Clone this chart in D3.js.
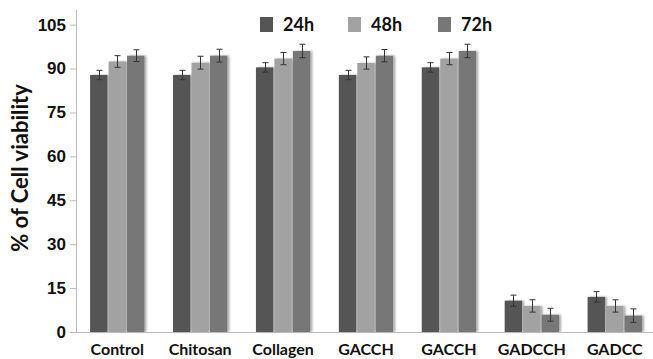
<!DOCTYPE html>
<html>
<head>
<meta charset="utf-8">
<script src="https://cdn.jsdelivr.net/npm/d3@7"></script>
<style>
    body { margin: 0; background: #fff; }
    svg { display: block; font-family: Lato, "Open Sans", sans-serif; }
</style>
</head>
<body>
<svg id="chart" width="653" height="359"></svg>
<script>
var categories = ['Control', 'Chitosan', 'Collagen', 'GACCH', 'GACCH', 'GADCCH', 'GADCC'];
var series = ['24h', '48h', '72h'];
var values24 = [87.8, 87.8, 90.4, 87.8, 90.4, 10.7, 12.0];
var values48 = [92.4, 92.0, 93.4, 91.9, 93.4, 8.9, 8.9];
var values72 = [94.4, 94.4, 96.0, 94.4, 96.0, 5.9, 5.6];
var errors24 = [1.6, 1.6, 1.6, 1.6, 1.6, 1.9, 1.8];
var errors48 = [2.0, 2.2, 2.1, 2.1, 2.1, 2.1, 2.1];
var errors72 = [2.0, 2.2, 2.3, 2.1, 2.3, 2.2, 2.3];
var yTicks = [0, 15, 30, 45, 60, 75, 90, 105];
var colors = ['#555555', '#a2a2a2', '#777777'];

var valueSets = [values24, values48, values72];
var errorSets = [errors24, errors48, errors72];

var svg = d3.select('#chart');
var margin = { left: 76, top: 10, bottom: 27 };
var height = 359;

// index categories so the two GACCH groups stay distinct
var x = d3.scaleBand()
    .domain(d3.range(categories.length))
    .range([margin.left, 656])
    .paddingInner(0.345)
    .paddingOuter(0.17);
var x1 = d3.scaleBand()
    .domain(series)
    .range([0, x.bandwidth()])
    .paddingInner(0.06);
var y = d3.scaleLinear()
    .domain([0, 110])
    .range([height - margin.bottom, margin.top]);

var defs = svg.append('defs');
var blur = defs.append('filter').attr('id', 'shadow')
    .attr('x', '-20%').attr('y', '-5%').attr('width', '150%').attr('height', '110%');
blur.append('feGaussianBlur').attr('in', 'SourceAlpha').attr('stdDeviation', 1);
blur.append('feOffset').attr('dx', 1.5).attr('dy', 0).attr('result', 'b');
blur.append('feComponentTransfer').append('feFuncA').attr('type', 'linear').attr('slope', 0.35);
var merge = blur.append('feMerge');
merge.append('feMergeNode');
merge.append('feMergeNode').attr('in', 'SourceGraphic');

// bars
var rows = [];
categories.forEach(function (c, i) {
    series.forEach(function (s, j) {
        rows.push({ cat: i, s: s, j: j, v: valueSets[j][i], e: errorSets[j][i] });
    });
});

svg.append('g').selectAll('rect')
    .data(rows)
    .enter()
        .append('rect')
        .attr('x', function (d) { return x(d.cat) + x1(d.s); })
        .attr('y', function (d) { return y(d.v); })
        .attr('width', x1.bandwidth())
        .attr('height', function (d) { return y(0) - y(d.v); })
        .attr('fill', function (d) { return colors[d.j]; })
        .attr('filter', 'url(#shadow)');

// error bars
var eb = svg.append('g').attr('stroke', '#333').attr('stroke-width', 1).attr('fill', 'none');
rows.forEach(function (d) {
    var cx = Math.round(x(d.cat) + x1(d.s) + x1.bandwidth() / 2) + 0.5;
    var y0 = y(d.v - d.e), y1 = y(d.v + d.e);
    eb.append('line').attr('x1', cx).attr('x2', cx).attr('y1', y0).attr('y2', y1);
    eb.append('line').attr('x1', cx - 3).attr('x2', cx + 3).attr('y1', y0).attr('y2', y0);
    eb.append('line').attr('x1', cx - 3).attr('x2', cx + 3).attr('y1', y1).attr('y2', y1);
});

// y axis
var yAxis = svg.append('g')
    .attr('transform', 'translate(' + margin.left + ',0)')
    .call(d3.axisLeft(y).tickValues(yTicks).tickSize(6).tickPadding(4));
yAxis.select('.domain').attr('stroke', '#bbb').attr('d', 'M0.5,' + y(0) + 'V' + y(110));
yAxis.selectAll('.tick line').attr('stroke', '#bbb');
yAxis.selectAll('.tick text')
    .attr('fill', '#111')
    .style('font-size', '17px')
    .style('font-weight', 'bold');

// x baseline
svg.append('line')
    .attr('x1', margin.left).attr('x2', 653)
    .attr('y1', y(0) + 0.5).attr('y2', y(0) + 0.5)
    .attr('stroke', '#bbb');

// category labels
svg.append('g').selectAll('text')
    .data(categories)
    .enter()
        .append('text')
        .attr('x', function (d, i) { return x(i) + x.bandwidth() / 2; })
        .attr('y', 355)
        .attr('text-anchor', 'middle')
        .attr('fill', '#111')
        .style('font-size', '16px')
        .style('font-weight', 'bold')
        .text(function (d) { return d; });

// y title
svg.append('text')
    .attr('transform', 'translate(28,' + 168 + ') rotate(-90)')
    .attr('text-anchor', 'middle')
    .attr('fill', '#111')
    .style('font-size', '22px')
    .style('font-weight', 'bold')
    .text('% of Cell viability');

// legend
var legendX = [260, 348, 438];
var legend = svg.append('g').selectAll('g')
    .data(series)
    .enter()
        .append('g')
        .attr('transform', function (d, i) { return 'translate(' + legendX[i] + ',17)'; });
legend.append('rect')
    .attr('width', 13).attr('height', 15)
    .attr('fill', function (d, i) { return colors[i]; });
legend.append('text')
    .attr('x', 23).attr('y', 14)
    .attr('fill', '#111')
    .style('font-size', '18px')
    .style('font-weight', 'bold')
    .text(function (d) { return d; });
</script>
</body>
</html>
